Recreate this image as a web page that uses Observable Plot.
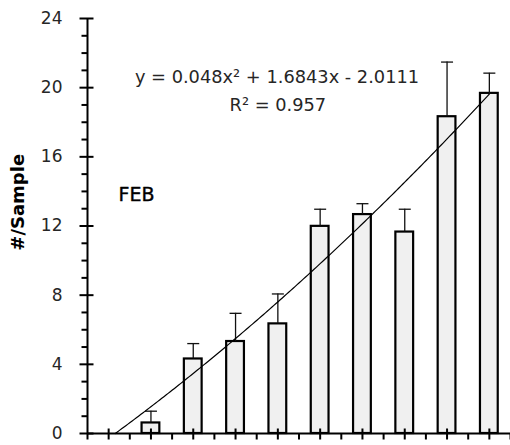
<!DOCTYPE html>
<html>
<head>
<meta charset="utf-8">
<script src="https://cdn.jsdelivr.net/npm/d3@7"></script>
<script src="https://cdn.jsdelivr.net/npm/@observablehq/plot@0.6"></script>
<style>
  html, body { margin: 0; padding: 0; background: #fff; }
  #chart svg { display: block; }
</style>
</head>
<body>
<div id="chart"></div>
<script>
// ---- data ----
const xs = [2, 3, 4, 5, 6, 7, 8, 9, 10];
const means = [0.61, 4.31, 5.32, 6.34, 11.98, 12.66, 11.65, 18.32, 19.67];
const errs = [0.68, 0.89, 1.63, 1.73, 0.99, 0.63, 1.32, 3.16, 1.17];
const yMajorTicks = [0, 4, 8, 12, 16, 20, 24];
const yMinorTicks = d3.range(0, 25, 1).filter(v => v % 4 !== 0);
const xMajorTicks = [1, 2, 3, 4, 5, 6, 7, 8, 9, 10];
const xMinorTicks = [0.5, 1.5, 2.5, 3.5, 4.5, 5.5, 6.5, 7.5, 8.5, 9.5, 10.5];
const trendCoef = [0.048, 1.6843, -2.0111]; // y = a x^2 + b x + c
const equationText = "y = 0.048x² + 1.6843x - 2.0111";
const r2Text = "R² = 0.957";
const panelLabel = "FEB";
const yLabel = "#/Sample";

const bars = xs.map((x, i) => ({x, mean: means[i], upper: means[i] + errs[i]}));

// trendline from the displayed equation, from where it crosses 0 up to the last bar
const [a, b, c] = trendCoef;
const root = (-b + Math.sqrt(b * b - 4 * a * c)) / (2 * a);
const trend = d3.range(root, 10.0001, 0.05).concat([10]).map(x => ({x, y: a * x * x + b * x + c}));

const sym = (x1, y1, x2, y2) => ({draw(ctx) { ctx.moveTo(x1, y1); ctx.lineTo(x2, y2); }});
const halfW = 0.21;
const FONT = "DejaVu Sans";

const plot = Plot.plot({
  width: 510,
  height: 445,
  marginLeft: 87,
  marginRight: 0,
  marginTop: 18,
  marginBottom: 12,
  x: {domain: [0.5, 10.5], axis: null},
  y: {domain: [0, 24], axis: null},
  style: {fontFamily: FONT, background: "white", overflow: "visible"},
  marks: [
    Plot.rectY(bars, {x1: d => d.x - halfW, x2: d => d.x + halfW, y1: 0, y2: "mean",
      fill: "#f0f0f0", stroke: "black", strokeWidth: 2.2}),
    Plot.ruleX(bars, {x: "x", y1: "mean", y2: "upper", stroke: "#111", strokeWidth: 1.3}),
    Plot.dot(bars, {x: "x", y: "upper", symbol: sym(-6, 0, 6, 0), stroke: "#111", strokeWidth: 1.3, fill: "none"}),
    Plot.line(trend, {x: "x", y: "y", stroke: "black", strokeWidth: 1.2}),
    // axes
    Plot.ruleX([0.5], {y1: 0, y2: 24, stroke: "black", strokeWidth: 2}),
    Plot.ruleY([0], {x1: 0.5, x2: 10.5, stroke: "black", strokeWidth: 2}),
    Plot.dot(yMajorTicks, {x: () => 0.5, y: d => d, symbol: sym(-8, 0, 6, 0), stroke: "black", strokeWidth: 2, fill: "none"}),
    Plot.dot(yMinorTicks, {x: () => 0.5, y: d => d, symbol: sym(-6, 0, 0, 0), stroke: "black", strokeWidth: 2, fill: "none"}),
    Plot.dot(xMajorTicks, {x: d => d, y: () => 0, symbol: sym(0, -5, 0, 6), stroke: "black", strokeWidth: 2, fill: "none"}),
    Plot.dot(xMinorTicks, {x: d => d, y: () => 0, symbol: sym(0, 0, 0, 6), stroke: "black", strokeWidth: 2, fill: "none"}),
    Plot.text(yMajorTicks, {y: d => d, text: d => String(d), frameAnchor: "left", dx: -25,
      textAnchor: "end", lineAnchor: "middle", fontSize: 17, fill: "#262626"}),
    // annotations
    Plot.text([equationText], {x: () => 4.98, y: () => 20.58, text: d => d, textAnchor: "middle",
      lineAnchor: "middle", fontSize: 17.8, fill: "#262626"}),
    Plot.text([r2Text], {x: () => 5.0, y: () => 19.0, text: d => d, textAnchor: "middle",
      lineAnchor: "middle", fontSize: 17.8, fill: "#262626"}),
    Plot.text([panelLabel], {x: () => 1.233, y: () => 13.77, text: d => d, textAnchor: "start",
      lineAnchor: "middle", fontSize: 19, fill: "black", stroke: "black", strokeWidth: 0.4}),
    Plot.text([yLabel], {y: () => 13.37, text: d => d, frameAnchor: "left", dx: -69.5, rotate: -90,
      textAnchor: "middle", lineAnchor: "middle", fontSize: 18, fontWeight: "bold", fill: "black"})
  ]
});
document.getElementById("chart").appendChild(plot);
</script>
</body>
</html>
